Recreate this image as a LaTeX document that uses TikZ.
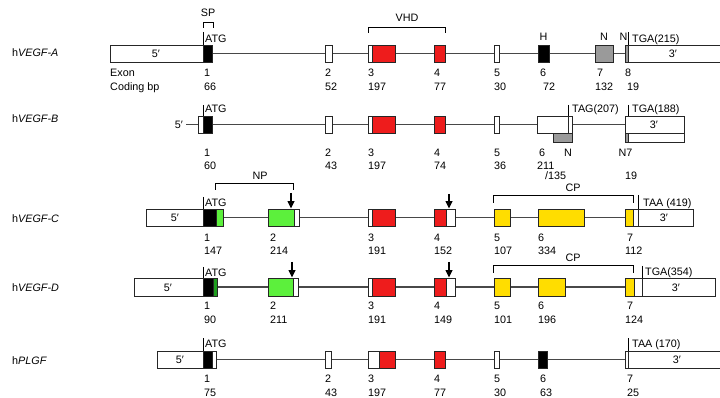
\documentclass[tikz,border=0pt]{standalone}
\usepackage{fontspec}
\setmainfont{Liberation Sans}
\usetikzlibrary{arrows.meta}
\definecolor{exred}{HTML}{EE1C1C}
\definecolor{exgreen}{HTML}{5CF03C}
\definecolor{exdkgreen}{HTML}{1E9E1E}
\definecolor{exyellow}{HTML}{FFDD00}
\definecolor{exgray}{HTML}{9A9A9A}
\definecolor{linegray}{HTML}{484848}
\newcommand\numl[4]{\node[lbl] (#1) at (#2,#3) {#4};}
\newcommand\numc[4]{\node[ctr] (#1) at (#2,#3) {#4};}
\newcommand\exbox[5]{\draw[exon, fill=#1] (#2,#3) rectangle (#4,#5);}
\begin{document}
\begin{tikzpicture}[x=0.03cm,y=-0.03cm, font=\fontsize{9.2}{10}\selectfont,
 gene/.style={draw=linegray, line width=0.9pt},
 exon/.style={draw=black!85, line width=0.75pt},
 lbl/.style={inner sep=0pt, anchor=west, text height=0.72em, text depth=0pt},
 ctr/.style={inner sep=0pt, anchor=center, text height=0.72em, text depth=0pt},
 tickln/.style={draw=black, line width=0.7pt},
 brk/.style={draw=black, line width=0.7pt},
 dnarrow/.style={draw=black, line width=1.2pt, -{Triangle[length=0.22cm,width=0.2cm]}}]
\useasboundingbox (0,0) rectangle (720,398);
\clip (0,0) rectangle (720,398);
\fill[white] (0,0) rectangle (720,398);

% ---------------- VEGF-A ----------------
\numl{nA}{12}{52}{h\textit{VEGF-A}}
\coordinate (A5) at (203,53.5); \coordinate (A3) at (628,53.5);
\draw[gene] (A5) -- (A3);
\exbox{white}{110}{45}{203}{62} \numc{a5t}{156}{53.5}{5′}
\exbox{black}{203}{45}{212}{62}
\draw[brk] (203,28) -- (203,22) -- (213,22) -- (213,28);
\numc{asp}{208}{12}{SP}
\draw[tickln] (203,32) -- (203,45); \numl{aatg}{205}{38}{ATG}
\exbox{white}{325}{45}{332}{62}
\exbox{white}{368}{45}{372}{62} \exbox{exred}{372}{45}{395}{62}
\draw[brk] (368,33) -- (368,27) -- (445,27) -- (445,33);
\numc{avhd}{407}{17}{VHD}
\exbox{exred}{434}{45}{445}{62}
\exbox{white}{494}{45}{499}{62}
\exbox{black}{538}{45}{549}{62} \numc{ah}{543.5}{36}{H}
\exbox{exgray}{595}{45}{613}{62} \numc{an7}{604}{36}{N}
\exbox{exgray}{625}{45}{628}{62} \numc{an8}{623.5}{36}{N}
\exbox{white}{628}{45}{725}{62} \numc{a3t}{673}{53.5}{3′}
\draw[tickln] (628,32) -- (628,45); \numl{atga}{632}{38}{TGA(215)}
\numl{aexon}{110}{72}{Exon} \numl{acod}{110}{86}{Coding bp}
\numl{ae1}{204}{72}{1} \numl{ab1}{204}{86}{66}
\numl{ae2}{325}{72}{2} \numl{ab2}{325}{86}{52}
\numl{ae3}{368}{72}{3} \numl{ab3}{368}{86}{197}
\numl{ae4}{434}{72}{4} \numl{ab4}{434}{86}{77}
\numl{ae5}{494}{72}{5} \numl{ab5}{494}{86}{30}
\numl{ae6}{540}{72}{6} \numl{ab6}{543}{86}{72}
\numl{ae7}{597}{72}{7} \numl{ab7}{595}{86}{132}
\numl{ae8}{625}{72}{8} \numl{ab8}{627}{86}{19}

% ---------------- VEGF-B ----------------
\numl{nB}{12}{118}{h\textit{VEGF-B}}
\numc{b5t}{179}{124.5}{5′}
\coordinate (B5) at (186,124.5); \coordinate (B3) at (625,124.5);
\draw[gene] (B5) -- (B3);
\exbox{white}{198}{116}{203}{133} \exbox{black}{203}{116}{212}{133}
\draw[tickln] (203,105) -- (203,116); \numl{batg}{205}{108}{ATG}
\exbox{white}{325}{116}{332}{133}
\exbox{white}{368}{116}{372}{133} \exbox{exred}{372}{116}{395}{133}
\exbox{exred}{434}{116}{445}{133}
\exbox{white}{494}{116}{499}{133}
\exbox{white}{537}{116}{572}{133}
\draw[exon] (568,116) -- (568,133);
\exbox{exgray}{553}{133}{572}{142}
\draw[tickln] (568,105) -- (568,116); \numl{btag}{572}{108}{TAG(207)}
\exbox{white}{625}{116}{684}{133}
\exbox{white}{625}{133}{684}{142}
\exbox{exgray}{625}{133}{628}{142}
\draw[tickln] (628,105) -- (628,116); \numl{btga}{632}{108}{TGA(188)}
\numc{b3t}{654}{124.5}{3′}
\numl{be1}{204}{152}{1} \numl{bb1}{204}{165}{60}
\numl{be2}{325}{152}{2} \numl{bb2}{325}{165}{43}
\numl{be3}{368}{152}{3} \numl{bb3}{368}{165}{197}
\numl{be4}{434}{152}{4} \numl{bb4}{434}{165}{74}
\numl{be5}{494}{152}{5} \numl{bb5}{494}{165}{36}
\numl{be6}{539}{152}{6} \numl{bb6}{537}{165}{211}
\numc{bn}{568}{152}{N} \numc{bn7}{625.5}{152}{N7}
\numl{bb6b}{545}{175}{/135} \numl{bb7}{625}{175}{19}

% ---------------- VEGF-C ----------------
\numc{cnp}{260}{175}{NP}
\draw[brk] (215,190) -- (215,183) -- (293,183) -- (293,190);
\numl{nC}{12}{218}{h\textit{VEGF-C}}
\coordinate (C5) at (223,217.5); \coordinate (C3) at (638,217.5);
\draw[gene] (C5) -- (C3);
\exbox{white}{146}{209}{203}{226} \numc{c5t}{175}{217.5}{5′}
\exbox{black}{203}{209}{216}{226} \exbox{exgreen}{216}{209}{223}{226}
\draw[tickln] (203,197) -- (203,209); \numl{catg}{205}{202}{ATG}
\exbox{exgreen}{268}{209}{294}{226} \exbox{white}{294}{209}{299}{226}
\coordinate (ca2s) at (291,193); \coordinate (ca2e) at (291,208.5);
\draw[dnarrow] (ca2s) -- (ca2e);
\exbox{white}{368}{209}{372}{226} \exbox{exred}{372}{209}{395}{226}
\exbox{exred}{434}{209}{446}{226} \exbox{white}{446}{209}{455}{226}
\coordinate (ca4s) at (449,194); \coordinate (ca4e) at (449,208.5);
\draw[dnarrow] (ca4s) -- (ca4e);
\draw[brk] (493,203) -- (493,195) -- (633,195) -- (633,203);
\numc{ccp}{573}{187}{CP}
\exbox{exyellow}{494}{209}{510}{226}
\exbox{exyellow}{538}{209}{584}{226}
\exbox{exyellow}{625}{209}{633}{226} \exbox{white}{633}{209}{638}{226}
\exbox{white}{638}{209}{693}{226} \numc{c3t}{664}{217.5}{3′}
\draw[tickln] (638,195) -- (638,209); \numl{ctaa}{643}{202}{TAA (419)}
\numl{ce1}{204}{237}{1} \numl{cb1}{204}{250}{147}
\numl{ce2}{270}{237}{2} \numl{cb2}{270}{250}{214}
\numl{ce3}{368}{237}{3} \numl{cb3}{368}{250}{191}
\numl{ce4}{434}{237}{4} \numl{cb4}{434}{250}{152}
\numl{ce5}{494}{237}{5} \numl{cb5}{494}{250}{107}
\numl{ce6}{538}{237}{6} \numl{cb6}{538}{250}{334}
\numl{ce7}{627}{237}{7} \numl{cb7}{625}{250}{112}

% ---------------- VEGF-D ----------------
\numl{nD}{12}{287}{h\textit{VEGF-D}}
\coordinate (D5) at (217,287); \coordinate (D3) at (642,287);
\draw[gene] (D5) -- (D3);
\exbox{white}{134}{278}{203}{296} \numc{d5t}{168}{287}{5′}
\exbox{black}{203}{278}{213}{296} \exbox{exdkgreen}{213}{278}{217}{296}
\draw[tickln] (203,267) -- (203,278); \numl{datg}{205}{272}{ATG}
\exbox{exgreen}{268}{278}{293}{296} \exbox{white}{293}{278}{298}{296}
\coordinate (da2s) at (292,262); \coordinate (da2e) at (292,277.5);
\draw[dnarrow] (da2s) -- (da2e);
\exbox{white}{368}{278}{372}{296} \exbox{exred}{372}{278}{395}{296}
\exbox{exred}{434}{278}{446}{296} \exbox{white}{446}{278}{455}{296}
\coordinate (da4s) at (449,262); \coordinate (da4e) at (449,277.5);
\draw[dnarrow] (da4s) -- (da4e);
\draw[brk] (493,273) -- (493,265) -- (633,265) -- (633,273);
\numc{dcp}{573}{257}{CP}
\exbox{exyellow}{494}{278}{510}{296}
\exbox{exyellow}{538}{278}{565}{296}
\exbox{exyellow}{625}{278}{634}{296} \exbox{white}{634}{278}{642}{296}
\exbox{white}{642}{278}{715}{296} \numc{d3t}{676}{287}{3′}
\draw[tickln] (642,266) -- (642,278); \numl{dtga}{645}{271}{TGA(354)}
\numl{de1}{204}{305}{1} \numl{db1}{204}{319}{90}
\numl{de2}{270}{305}{2} \numl{db2}{270}{319}{211}
\numl{de3}{368}{305}{3} \numl{db3}{368}{319}{191}
\numl{de4}{434}{305}{4} \numl{db4}{434}{319}{149}
\numl{de5}{494}{305}{5} \numl{db5}{494}{319}{101}
\numl{de6}{538}{305}{6} \numl{db6}{538}{319}{196}
\numl{de7}{627}{305}{7} \numl{db7}{625}{319}{124}

% ---------------- PLGF ----------------
\numl{nP}{12}{360}{h\textit{PLGF}}
\coordinate (P5) at (216,359.5); \coordinate (P3) at (628,359.5);
\draw[gene] (P5) -- (P3);
\exbox{white}{157}{351}{203}{368} \numc{p5t}{180}{359.5}{5′}
\exbox{black}{203}{351}{212}{368} \exbox{white}{212}{351}{216}{368}
\draw[tickln] (203,338) -- (203,351); \numl{patg}{205}{343}{ATG}
\exbox{white}{325}{351}{331}{368}
\exbox{white}{368}{351}{379}{368} \exbox{exred}{379}{351}{395}{368}
\exbox{exred}{434}{351}{445}{368}
\exbox{white}{494}{351}{499}{368}
\exbox{black}{538}{351}{547}{368}
\exbox{white}{625}{351}{628}{368}
\exbox{white}{628}{351}{725}{368} \numc{p3t}{677}{359.5}{3′}
\draw[tickln] (628,338) -- (628,351); \numl{ptaa}{632}{343}{TAA (170)}
\numl{pe1}{204}{378}{1} \numl{pb1}{204}{392}{75}
\numl{pe2}{325}{378}{2} \numl{pb2}{325}{392}{43}
\numl{pe3}{368}{378}{3} \numl{pb3}{368}{392}{197}
\numl{pe4}{434}{378}{4} \numl{pb4}{434}{392}{77}
\numl{pe5}{494}{378}{5} \numl{pb5}{494}{392}{30}
\numl{pe6}{540}{378}{6} \numl{pb6}{540}{392}{63}
\numl{pe7}{627}{378}{7} \numl{pb7}{627}{392}{25}
\end{tikzpicture}
\end{document}
